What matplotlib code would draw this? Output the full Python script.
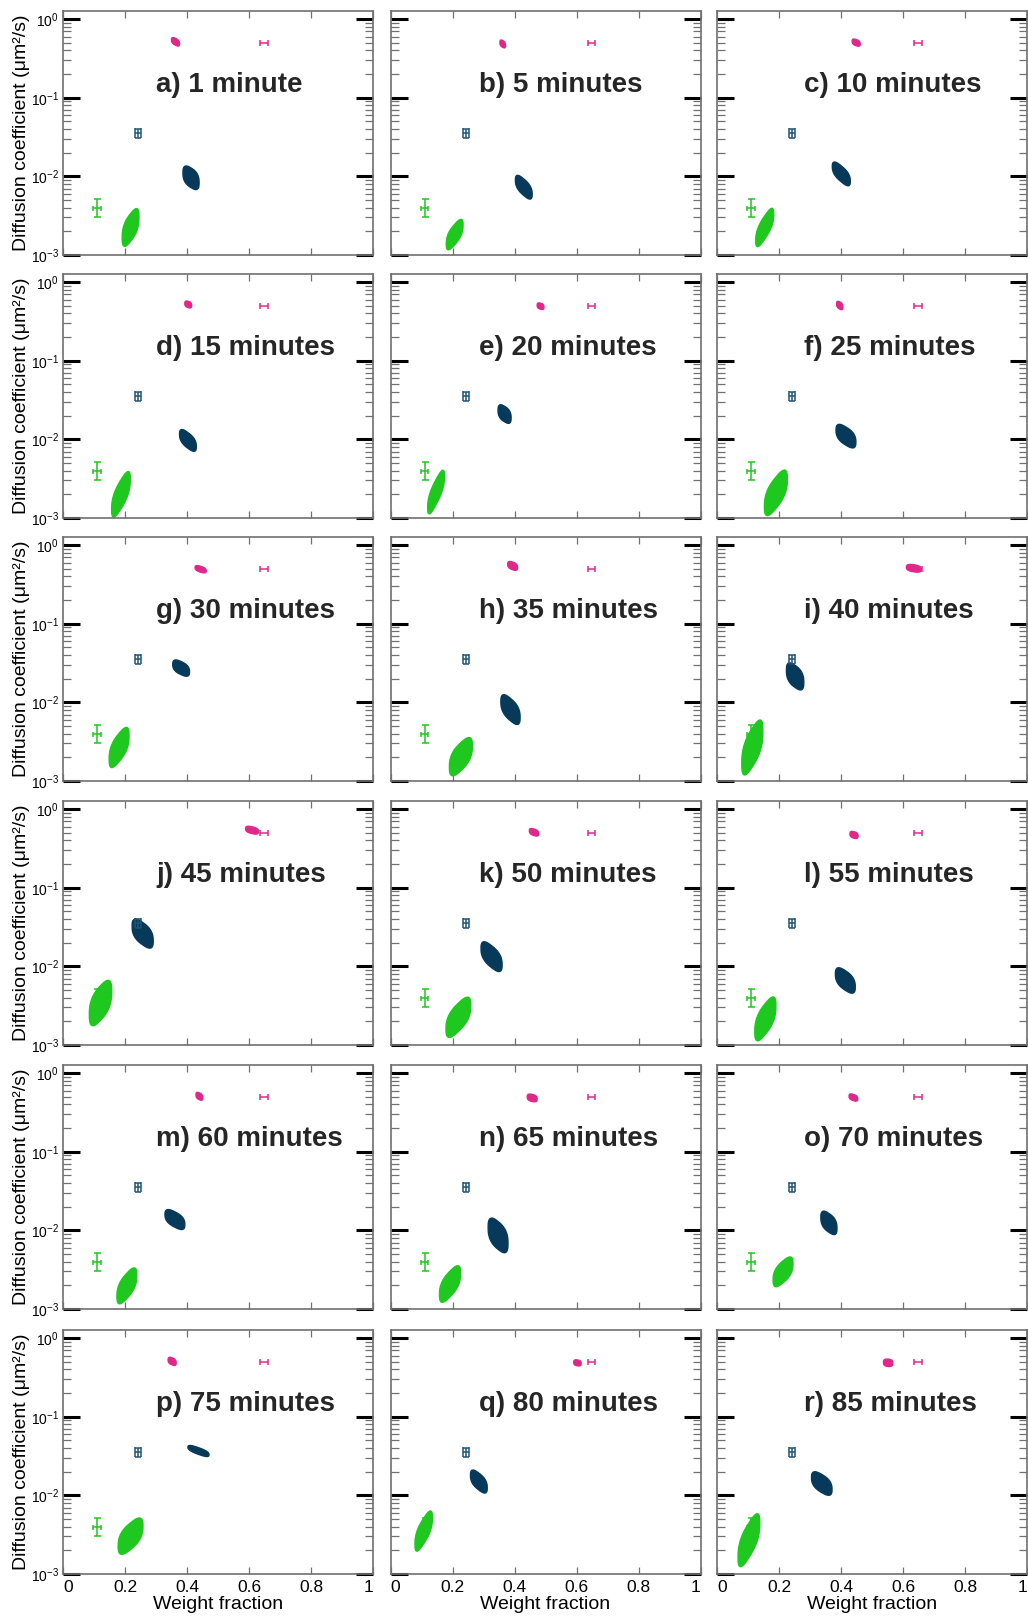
import numpy as np
import matplotlib
matplotlib.use("Agg")
import matplotlib.pyplot as plt
from matplotlib.ticker import LogLocator, FixedLocator, NullFormatter, FixedFormatter

plt.rcParams['font.family'] = ['Liberation Sans', 'DejaVu Sans']
plt.rcParams['mathtext.fontset'] = 'custom'
plt.rcParams['mathtext.rm'] = 'Liberation Sans'
plt.rcParams['mathtext.it'] = 'Liberation Sans:italic'
plt.rcParams['mathtext.bf'] = 'Liberation Sans:bold'

# ---------------------------------------------------------------- data
panel_labels = ['a) 1 minute', 'b) 5 minutes', 'c) 10 minutes',
                'd) 15 minutes', 'e) 20 minutes', 'f) 25 minutes',
                'g) 30 minutes', 'h) 35 minutes', 'i) 40 minutes',
                'j) 45 minutes', 'k) 50 minutes', 'l) 55 minutes',
                'm) 60 minutes', 'n) 65 minutes', 'o) 70 minutes',
                'p) 75 minutes', 'q) 80 minutes', 'r) 85 minutes']

x_ticks = [0, 0.2, 0.4, 0.6, 0.8, 1]
x_tick_labels = ['0', '0.2', '0.4', '0.6', '0.8', '1']
y_decades = [1e-3, 1e-2, 1e-1, 1e0]
y_tick_labels = [r'$10^{-3}$', r'$10^{-2}$', r'$10^{-1}$', r'$10^{0}$']

# reference components: weight fraction, diffusion coefficient (µm²/s) and errors
ref_x = [0.110, 0.242, 0.648]
ref_d = [4.0e-3, 0.0355, 0.50]
ref_xerr = [0.012, 0.0097, 0.012]
ref_d_lo = [1.0e-3, 0.0044, 0.0]
ref_d_hi = [1.1e-3, 0.0050, 0.0]

# fitted populations per time point: centre, half-range in x,
# half-range in log10(D) and x/log10(D) correlation
green_x = [0.218, 0.207, 0.154, 0.187, 0.147, 0.190, 0.181, 0.227, 0.114,
           0.121, 0.219, 0.156, 0.206, 0.192, 0.213, 0.218, 0.107, 0.103]
green_d = [2.24e-3, 1.82e-3, 2.24e-3, 2.00e-3, 2.14e-3, 2.09e-3, 2.67e-3, 2.04e-3, 2.67e-3,
           3.42e-3, 2.25e-3, 2.15e-3, 1.97e-3, 2.08e-3, 2.97e-3, 3.03e-3, 3.52e-3, 2.69e-3]
green_hx = [0.027, 0.027, 0.029, 0.030, 0.027, 0.037, 0.032, 0.037, 0.034,
            0.036, 0.040, 0.034, 0.032, 0.034, 0.032, 0.040, 0.028, 0.035]
green_hl = [0.22, 0.177, 0.223, 0.265, 0.254, 0.265, 0.234, 0.223, 0.32,
            0.266, 0.234, 0.255, 0.209, 0.213, 0.174, 0.212, 0.234, 0.308]
green_rho = [0.60, 0.68, 0.75, 0.72, 0.78, 0.66, 0.64, 0.60, 0.64,
             0.56, 0.64, 0.64, 0.64, 0.64, 0.60, 0.60, 0.72, 0.70]

navy_x = [0.413, 0.430, 0.401, 0.403, 0.368, 0.416, 0.381, 0.387, 0.252,
          0.257, 0.326, 0.414, 0.361, 0.347, 0.361, 0.437, 0.285, 0.338]
navy_d = [0.0096, 0.00728, 0.01076, 0.0097, 0.021, 0.011, 0.0273, 0.0081, 0.0214,
          0.0261, 0.0133, 0.00662, 0.01374, 0.00863, 0.01247, 0.0367, 0.0150, 0.01416]
navy_hx = [0.026, 0.027, 0.029, 0.027, 0.021, 0.032, 0.027, 0.031, 0.028,
           0.034, 0.034, 0.032, 0.032, 0.032, 0.026, 0.034, 0.027, 0.033]
navy_hl = [0.14, 0.138, 0.138, 0.127, 0.11, 0.138, 0.096, 0.174, 0.16,
           0.17, 0.174, 0.149, 0.117, 0.204, 0.138, 0.064, 0.134, 0.138]
navy_rho = [-0.45, -0.65, -0.68, -0.62, -0.45, -0.55, -0.50, -0.58, -0.48,
            -0.55, -0.60, -0.55, -0.55, -0.50, -0.50, -0.75, -0.60, -0.55]

pink_x = [0.363, 0.362, 0.449, 0.404, 0.484, 0.396, 0.444, 0.394, 0.635,
          0.610, 0.463, 0.442, 0.440, 0.457, 0.440, 0.352, 0.603, 0.552]
pink_d = [0.515, 0.484, 0.503, 0.520, 0.495, 0.505, 0.494, 0.545, 0.508,
          0.540, 0.508, 0.470, 0.508, 0.484, 0.490, 0.507, 0.485, 0.486]
pink_hx = [0.013, 0.009, 0.013, 0.011, 0.011, 0.010, 0.018, 0.016, 0.024,
           0.021, 0.015, 0.013, 0.011, 0.016, 0.014, 0.013, 0.012, 0.015]
pink_hl = [0.050, 0.047, 0.043, 0.042, 0.040, 0.050, 0.043, 0.053, 0.047,
           0.047, 0.045, 0.043, 0.047, 0.047, 0.043, 0.049, 0.038, 0.047]
pink_rho = [-0.5, -0.4, -0.4, -0.3, -0.3, -0.4, -0.5, -0.4, -0.3,
            -0.4, -0.4, -0.3, -0.4, -0.3, -0.4, -0.4, -0.2, -0.1]

# ---------------------------------------------------------------- styles
GREEN = '#1ec81e'
NAVY = '#073a5a'
NAVY_REF = '#1f5478'
PINK = '#e0288a'
SPINE = '#707070'
TITLE = '#262626'

W, H = 1028, 1619
col_left = [63, 390.5, 717]
row_top = [11, 274, 537, 801, 1065, 1330]
ax_w, ax_h = 310, 244
title_x = [0.30, 0.285, 0.28]

fig = plt.figure(figsize=(W / 100, H / 100), dpi=100)


def cloud(ax, cx, cd, hx, hl, rho, color, n=2.7):
    """Filled rounded outline of a population in (x, log10 D) space."""
    t = np.linspace(0, 2 * np.pi, 240)
    u = np.sign(np.cos(t)) * np.abs(np.cos(t)) ** (2 / n)
    v = np.sign(np.sin(t)) * np.abs(np.sin(t)) ** (2 / n)
    x = cx + hx * u
    logd = np.log10(cd) + hl * (rho * u + np.sqrt(1 - rho ** 2) * v)
    ax.fill(x, 10 ** logd, facecolor=color, edgecolor=color, lw=1.0, zorder=2)


def px2pt(p):
    return p * 72 / 100


for i, label in enumerate(panel_labels):
    r, c = divmod(i, 3)
    ax = fig.add_axes([col_left[c] / W, 1 - (row_top[r] + ax_h) / H, ax_w / W, ax_h / H])
    ax.set_yscale('log')
    ax.set_xlim(0, 1)
    ax.set_ylim(1e-3, 1.27)

    cloud(ax, green_x[i], green_d[i], green_hx[i], green_hl[i], green_rho[i], GREEN)
    cloud(ax, navy_x[i], navy_d[i], navy_hx[i], navy_hl[i], navy_rho[i], NAVY)
    cloud(ax, pink_x[i], pink_d[i], pink_hx[i], pink_hl[i], pink_rho[i], PINK)

    # reference components
    ek = dict(fmt='none', elinewidth=1.1, capthick=1.1, zorder=4)
    ax.errorbar(ref_x[0], ref_d[0], yerr=[[ref_d_lo[0]], [ref_d_hi[0]]],
                ecolor=GREEN, capsize=px2pt(3.5), **ek)
    ax.errorbar(ref_x[0], ref_d[0], xerr=ref_xerr[0],
                ecolor=GREEN, capsize=px2pt(2.5), **ek)
    ax.errorbar(ref_x[1], ref_d[1], yerr=[[ref_d_lo[1]], [ref_d_hi[1]]],
                ecolor=NAVY_REF, capsize=px2pt(3.2), **ek)
    ax.errorbar(ref_x[1], ref_d[1], xerr=ref_xerr[1],
                ecolor=NAVY_REF, capsize=px2pt(4.6), **ek)
    ax.errorbar(ref_x[2], ref_d[2], xerr=ref_xerr[2],
                ecolor=PINK, capsize=px2pt(2.8), **ek)

    # axes styling
    for s in ax.spines.values():
        s.set_color(SPINE)
        s.set_linewidth(1.2)
    ax.xaxis.set_major_locator(FixedLocator(x_ticks))
    ax.yaxis.set_major_locator(FixedLocator(y_decades))
    ax.yaxis.set_minor_locator(LogLocator(base=10, subs=np.arange(2, 10), numticks=20))
    ax.xaxis.set_minor_locator(FixedLocator([]))
    ax.yaxis.set_minor_formatter(NullFormatter())
    ax.tick_params(which='both', direction='in', top=True, right=True)
    ax.tick_params(axis='y', which='major', length=12, width=2.2, color='black', pad=3,
                   labelsize=10)
    ax.tick_params(axis='y', which='minor', length=6, width=0.9, color=SPINE)
    ax.tick_params(axis='x', which='major', length=5, width=0.9, color=SPINE, pad=4,
                   labelsize=12.5)

    if c == 0:
        ax.yaxis.set_major_formatter(FixedFormatter(y_tick_labels))
        ax.set_ylabel('Diffusion coefficient (μm²/s)', fontsize=14, labelpad=0.5)
    else:
        ax.yaxis.set_major_formatter(NullFormatter())
    if r == 5:
        ax.xaxis.set_major_formatter(FixedFormatter(x_tick_labels))
        ax.set_xlabel('Weight fraction', fontsize=14, labelpad=1)
        xt = ax.xaxis.get_major_ticks()
        xt[0].label1.set_horizontalalignment('left')
        xt[-1].label1.set_horizontalalignment('right')
    else:
        ax.xaxis.set_major_formatter(NullFormatter())

    ax.text(title_x[c], 0.695, label, transform=ax.transAxes, fontsize=20,
            fontweight='bold', color=TITLE, ha='left', va='center', zorder=5)

fig.savefig('out.png', dpi=100)
